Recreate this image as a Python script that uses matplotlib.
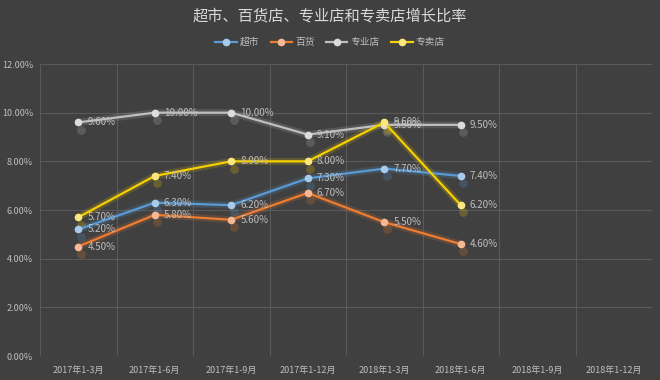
import matplotlib
matplotlib.use("Agg")
import matplotlib.pyplot as plt
import numpy as np

plt.rcParams['font.family'] = ['Noto Sans CJK SC', 'DejaVu Sans']

categories = ["2017年1-3月", "2017年1-6月", "2017年1-9月", "2017年1-12月",
              "2018年1-3月", "2018年1-6月", "2018年1-9月", "2018年1-12月"]
series_names = ["超市", "百货", "专业店", "专卖店"]
chaoshi = [5.2, 6.3, 6.2, 7.3, 7.7, 7.4]
baihuo = [4.5, 5.8, 5.6, 6.7, 5.5, 4.6]
zhuanye = [9.6, 10.0, 10.0, 9.1, 9.5, 9.5]
zhuanmai = [5.7, 7.4, 8.0, 8.0, 9.6, 6.2]
yticks = [0, 2, 4, 6, 8, 10, 12]

colors = ["#5B9BD5", "#ED7D31", "#BFBFBF", "#F5D000"]
marker_colors = ["#A9CBEB", "#F6B894", "#DCDCDC", "#FBE780"]
bg = "#404040"
txt = "#BFBFBF"

fig = plt.figure(figsize=(6.6, 3.8), dpi=100, facecolor=bg)
ax = fig.add_axes([40/660, 24/380, 612/660, 292/380], facecolor=bg)

n = len(categories)
ax.set_xlim(0, n)
ax.set_ylim(0, 12)
for x in range(n + 1):
    ax.axvline(x, color="#595959", lw=0.8, zorder=0)
for y in yticks:
    ax.axhline(y, color="#595959", lw=0.8, zorder=0)

data = [chaoshi, baihuo, zhuanye, zhuanmai]
xs_all = np.arange(n) + 0.5
for vals, c, mc, name in zip(data, colors, marker_colors, series_names):
    xs = xs_all[:len(vals)]
    ax.plot(xs, vals, color=c, lw=5, alpha=0.18, zorder=2, solid_capstyle='round')
    ax.plot(xs, vals, color=c, lw=1.6, zorder=3, marker='o', markersize=4.5,
            markerfacecolor=mc, markeredgecolor=mc, label=name)
    for x, v in zip(xs, vals):
        ax.scatter([x + 0.03], [v - 0.3], s=40, color=c, alpha=0.22, zorder=2, lw=0)
        ax.text(x + 0.12, v, f"{v:.2f}%", color=txt, fontsize=7,
                va='center', ha='left', zorder=4)

ax.set_xticks(xs_all)
ax.set_xticklabels(categories, color=txt, fontsize=6.5)
ax.set_yticks(yticks)
ax.set_yticklabels([f"{y:.2f}%" for y in yticks], color=txt, fontsize=6.5)
ax.tick_params(axis='y', length=0, pad=5)
ax.tick_params(axis='x', length=0, pad=7)
for s in ax.spines.values():
    s.set_visible(False)

fig.text(0.5, 1 - 16/380, "超市、百货店、专业店和专卖店增长比率", ha='center', va='center',
         color="#D9D9D9", fontsize=11)
leg = fig.legend(loc='center', bbox_to_anchor=(0.5, 1 - 42/380), ncol=4, frameon=False,
                 fontsize=7, labelcolor=txt, handlelength=2.2, columnspacing=1.2,
                 handletextpad=0.3)

fig.savefig("out.png", dpi=100, facecolor=bg)
